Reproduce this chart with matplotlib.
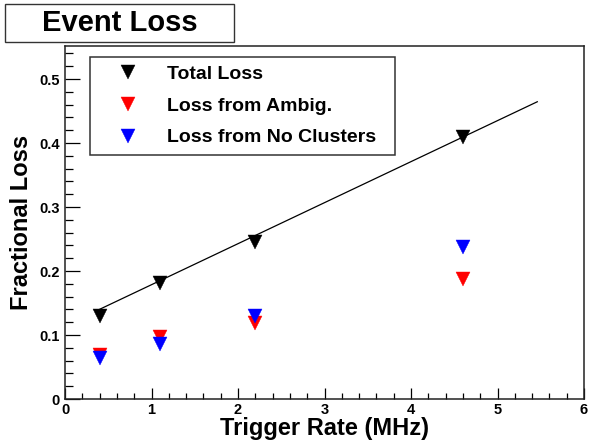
import matplotlib
matplotlib.use("Agg")
import matplotlib.pyplot as plt
import numpy as np
from matplotlib.patches import Rectangle
from matplotlib.ticker import MultipleLocator, FuncFormatter

plt.rcParams['font.family'] = ['Liberation Sans', 'DejaVu Sans']
plt.rcParams['font.weight'] = 'bold'

# ---- data ----
trigger_rate = [0.4, 1.1, 2.2, 4.6]
total_loss = [0.130, 0.181, 0.246, 0.409]
ambig_loss = [0.069, 0.097, 0.119, 0.187]
noclus_loss = [0.064, 0.086, 0.130, 0.237]
fit_slope = 0.0641
fit_intercept = 0.1145
fit_range = [0.4, 5.46]

series_labels = ["Total Loss", "Loss from Ambig.", "Loss from No Clusters"]
series_colors = ["black", "red", "blue"]
title = "Event Loss"
xlabel = "Trigger Rate (MHz)"
ylabel = "Fractional Loss"

W, H = 589, 440
fig = plt.figure(figsize=(W / 100, H / 100), dpi=100)
ax = fig.add_axes([65 / W, (H - 399) / H, 519 / W, 353 / H])

# fit line
xf = np.array(fit_range)
ax.plot(xf, fit_intercept + fit_slope * xf, color='black', lw=0.9, zorder=2)

ms = 9.8
handles = []
for yv, col, lab in zip([total_loss, ambig_loss, noclus_loss], series_colors, series_labels):
    h, = ax.plot(trigger_rate, yv, linestyle='none', marker='v', ms=ms,
                 color=col, mec=col, mew=0.3, label=lab, zorder=3)
    handles.append(h)

ax.set_xlim(0, 6)
ax.set_ylim(0, 0.5516)

ax.xaxis.set_major_locator(MultipleLocator(1))
ax.xaxis.set_minor_locator(MultipleLocator(0.2))
ax.yaxis.set_major_locator(MultipleLocator(0.1))
ax.yaxis.set_minor_locator(MultipleLocator(0.02))

def yfmt(v, p):
    if abs(v) < 1e-9:
        return "0"
    return f"{v:.1f}"
ax.yaxis.set_major_formatter(FuncFormatter(yfmt))
ax.xaxis.set_major_formatter(FuncFormatter(lambda v, p: f"{int(round(v))}"))

ax.tick_params(axis='x', which='major', direction='in', length=7.9, width=0.9,
               labelsize=10.5, pad=3.2, top=False)
ax.tick_params(axis='x', which='minor', direction='in', length=4.0, width=0.9, top=False)
ax.tick_params(axis='y', which='major', direction='in', length=10.8, width=0.9,
               labelsize=10.5, pad=3.6, right=False)
ax.tick_params(axis='y', which='minor', direction='in', length=5.4, width=0.9, right=False)
for lbl in ax.get_xticklabels() + ax.get_yticklabels():
    lbl.set_fontweight('bold')

for s in ax.spines.values():
    s.set_linewidth(1.1)
    s.set_color('#222222')

# axis titles
fig.text(324.5 / W, 1 - 435 / H, xlabel, ha='center', va='baseline',
         fontsize=17, fontweight='bold')
fig.text(22 / W, 1 - 222 / H, ylabel, ha='center', va='center', rotation=90,
         fontsize=17, fontweight='bold')

# title box
fig.patches.append(Rectangle((5 / W, 1 - 42 / H), 229 / W, 38 / H,
                             transform=fig.transFigure, facecolor='white',
                             edgecolor='#333333', lw=1.0))
fig.text(119.5 / W, 1 - 23 / H, title, ha='center', va='center',
         fontsize=21, fontweight='bold')

# legend
leg = ax.legend(handles=handles, loc='upper left',
                bbox_to_anchor=(90 / W, 1 - 152 / H, 305 / W, 95 / H),
                bbox_transform=fig.transFigure, mode='expand',
                prop={'size': 14, 'weight': 'bold'}, frameon=True, fancybox=False,
                borderpad=0.42, handlelength=3.07, handletextpad=0.47,
                labelspacing=0.73, borderaxespad=0.0, markerscale=1.0)
leg.get_frame().set_edgecolor('black')
leg.get_frame().set_linewidth(1.1)

fig.savefig("out.png", dpi=100)
